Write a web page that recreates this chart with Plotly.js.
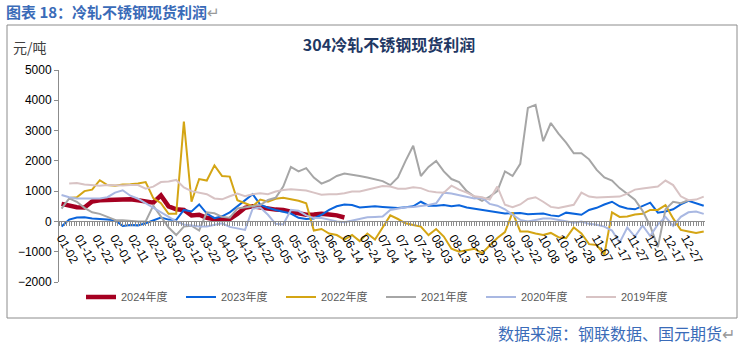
<!DOCTYPE html>
<html><head><meta charset="utf-8">
<script src="https://cdn.plot.ly/plotly-3.0.1.min.js"></script>
<style>html,body{margin:0;padding:0;background:#fff}#chart{width:740px;height:348px}</style>
</head><body><div id="chart"></div>
<script>
// x-axis tick labels (one label every 7 trading days)
const tickLabels = ['01-02','01-12','01-22','02-01','02-11','02-21','03-02','03-12','03-22','04-01','04-12','04-22',
  '05-05','05-15','05-25','06-04','06-14','06-24','07-04','07-14','07-24','08-03','08-13','08-23','09-02','09-12',
  '09-22','10-08','10-18','10-28','11-07','11-17','11-27','12-07','12-17','12-27'];
const daysPerLabel = 7;
const daysPerSample = 3;   // series values read every 3 trading days
const seriesNames = ['2024年度','2023年度','2022年度','2021年度','2020年度','2019年度'];

const v2024 = [580,520,470,460,660,700,710,700,720,730,700,660,620,860,500,400,380,200,220,120,70,60,80,250,450,500,480,430,390,380,320,260,220,230,250,230,200,130];
const v2023 = [-170,60,130,140,100,70,60,40,-150,-120,-130,-60,40,130,60,50,380,330,560,260,110,170,300,500,720,900,550,450,380,330,260,120,80,100,220,380,500,560,540,460,480,500,
  480,460,440,470,500,650,520,520,540,500,530,460,420,380,330,280,260,270,280,240,260,260,200,170,290,250,220,380,450,560,650,500,430,400,520,620,290,330,400,560,680,600,520];
const v2022 = [null,770,800,1000,1050,1360,1200,1180,1220,1230,1250,1300,770,600,250,250,3300,650,1400,1350,1850,1500,1480,700,600,500,720,650,750,780,730,680,600,-300,-250,-400,-450,-600,-450,-650,-400,-600,
  -200,200,80,-60,-120,-170,-450,-250,-500,-900,-1000,-950,-900,-1050,-800,-550,-350,300,-330,-330,-400,-450,-380,-520,-550,-200,-400,-750,-780,-1100,300,150,160,230,250,380,380,540,100,-280,-330,-380,-330];
const v2021 = [420,760,650,450,300,250,150,50,40,10,0,0,520,160,-200,-450,-170,-140,-300,300,270,150,120,430,460,500,540,710,780,1150,1800,1650,1760,1450,1250,1350,1500,1580,1550,1500,1450,1380,
  1330,1200,1450,2000,2500,1500,1800,2000,1650,1400,1300,1000,820,680,820,1000,1650,1500,1900,3750,3850,2650,3250,2900,2600,2250,2250,2050,1700,1450,1350,1100,900,720,350,-150,-850,400,650,600,700];
const v2020 = [870,800,760,760,760,760,800,950,1030,850,750,600,460,320,150,0,-100,-130,-170,-170,-120,-60,-180,-230,-280,420,460,220,-80,-100,380,350,200,110,110,60,0,-30,20,80,140,150,
  160,380,430,470,480,500,540,600,950,920,870,820,760,780,580,520,400,220,50,0,40,100,100,60,0,-40,0,-80,-110,-170,-300,-700,-200,-500,-130,-480,-100,150,-150,150,300,330,250];
const v2019 = [null,1250,1270,1220,1190,1180,1200,1190,1190,1200,1200,1080,1150,1300,1320,1370,1120,1000,950,900,760,730,830,920,830,900,930,900,990,1040,1060,1040,1020,950,880,900,900,930,990,990,1050,1100,
  1170,1150,1080,1080,1130,1100,1000,960,950,1180,1050,950,830,800,720,1150,550,470,560,740,800,650,480,440,500,550,950,820,790,800,800,820,920,1050,1090,1110,1150,1350,1200,830,700,720,820];

const seriesValues = [v2024, v2023, v2022, v2021, v2020, v2019];
const colors = ['#A50021','#0A64DC','#D4A514','#A6A6A6','#A9B8E2','#D8C3C4'];
const widths = [4.5,2,2,2,2,2];

const traces = seriesValues.map((vals, s) => ({
  type: 'scatter', mode: 'lines', name: seriesNames[s],
  x: vals.map((_, i) => i * daysPerSample), y: vals,
  line: {color: colors[s], width: widths[s]},
  connectgaps: false, hoverinfo: 'skip'
}));

const L = 59, R = 35, T = 70, B = 66, W = 740 - L - R, H = 348 - T - B;
const px = x => (x - L) / W;
const py = y => (348 - B - y) / H;

const layout = {
  width: 740, height: 348,
  margin: {l: L, r: R, t: T, b: B},
  paper_bgcolor: '#fff', plot_bgcolor: '#fff',
  font: {family: 'Liberation Sans, Arial, "Noto Sans CJK SC", sans-serif', size: 12, color: '#000'},
  showlegend: true,
  title: {text: '<b>304冷轧不锈钢现货利润</b>', xref: 'container', x: 389/740, xanchor: 'center',
          yref: 'container', y: 1 - 45/348, yanchor: 'middle',
          font: {family: '"Noto Sans CJK SC", sans-serif', size: 16, color: '#1F3864'}},
  xaxis: {
    range: [-1, 252.5], showgrid: false, zeroline: false,
    anchor: 'free', position: 2/7,
    tickmode: 'array', tickvals: tickLabels.map((_, i) => i * daysPerLabel), ticktext: tickLabels,
    tickangle: 60, ticks: 'outside', ticklen: 4, tickcolor: '#8C8C8C',
    showline: true, linecolor: '#8C8C8C', linewidth: 1,
    tickfont: {size: 12, color: '#000'},
    minor: {dtick: 1, tick0: 0, ticks: 'outside', ticklen: 4, tickcolor: '#8C8C8C', tickwidth: 1, showgrid: false}
  },
  yaxis: {
    range: [-2000, 5000], dtick: 1000, showgrid: false, zeroline: false,
    ticks: 'outside', ticklen: 4, tickcolor: '#8C8C8C',
    showline: true, linecolor: '#8C8C8C', linewidth: 1,
    tickfont: {size: 12, color: '#000'}
  },
  legend: {orientation: 'h', x: px(81), xanchor: 'left', y: py(297), yanchor: 'middle',
           font: {size: 11, color: '#595959'}, entrywidth: 55, bgcolor: 'rgba(0,0,0,0)', traceorder: 'normal'},
  shapes: [
    {type: 'rect', xref: 'paper', yref: 'paper', x0: px(7), x1: px(737), y0: py(318), y1: py(25),
     line: {color: '#8C8C8C', width: 1}, fillcolor: 'rgba(0,0,0,0)', layer: 'below'}
  ],
  annotations: [
    {xref: 'paper', yref: 'paper', x: px(4), y: py(12), xanchor: 'left', yanchor: 'middle', showarrow: false,
     text: '<b>图表 18：冷轧不锈钢现货利润</b><span style="color:#999">↵</span>',
     font: {family: '"Noto Sans CJK SC", sans-serif', size: 15, color: '#3A6BB8'}},
    {xref: 'paper', yref: 'paper', x: px(11), y: py(47), xanchor: 'left', yanchor: 'middle', showarrow: false,
     text: '元/吨', font: {family: '"Noto Sans CJK SC", sans-serif', size: 14, color: '#404040'}},
    {xref: 'paper', yref: 'paper', x: px(737), y: py(333), xanchor: 'right', yanchor: 'middle', showarrow: false,
     text: '数据来源：钢联数据、国元期货<span style="color:#999">↵</span>',
     font: {family: '"Noto Sans CJK SC", sans-serif', size: 16, color: '#3A6BB8'}}
  ]
};

Plotly.newPlot('chart', traces, layout, {staticPlot: true, displayModeBar: false});
</script></body></html>
